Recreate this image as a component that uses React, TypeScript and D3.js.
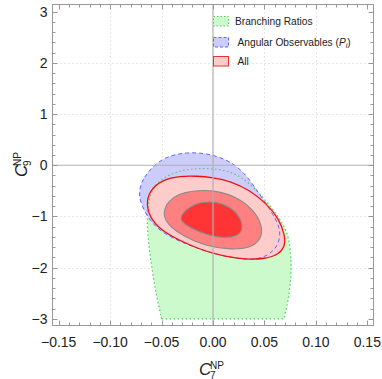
import React, { useEffect, useRef } from 'react';
import * as d3 from 'd3';

// contour boundaries, [C7, C9]
const branchingRatios: [number, number][] = [
  [-0.050, -3.0], [-0.053, -2.72], [-0.056, -2.45], [-0.061, -1.80], [-0.064, -1.28], [-0.064, -0.79],
  [-0.059, -0.46], [-0.051, -0.28], [-0.037, -0.13], [-0.022, -0.07], [-0.003, -0.06],
  [0.017, -0.11], [0.033, -0.30], [0.049, -0.63], [0.062, -0.95], [0.072, -1.28],
  [0.075, -1.59], [0.076, -1.87], [0.076, -2.20], [0.073, -2.65], [0.071, -2.83], [0.069, -3.0],
];

const angularObs: [number, number][] = [
  [-0.072, -0.50], [-0.068, -0.24], [-0.055, 0.05], [-0.042, 0.19], [-0.026, 0.25],
  [-0.009, 0.24], [0.007, 0.16], [0.021, 0.02], [0.033, -0.21], [0.043, -0.50],
  [0.053, -0.79], [0.062, -1.08], [0.066, -1.32], [0.063, -1.59], [0.053, -1.77],
  [0.041, -1.845], [0.026, -1.83], [0.007, -1.76], [-0.013, -1.64], [-0.032, -1.49],
  [-0.047, -1.34], [-0.058, -1.16], [-0.066, -0.93], [-0.071, -0.69],
];

const allOuter: [number, number][] = [
  [-0.065, -0.77], [-0.062, -0.50], [-0.049, -0.28], [-0.032, -0.21], [-0.016, -0.21],
  [0.000, -0.24], [0.017, -0.31], [0.036, -0.49], [0.052, -0.75], [0.064, -1.04],
  [0.070, -1.37], [0.070, -1.58], [0.064, -1.74], [0.051, -1.83], [0.031, -1.84],
  [0.012, -1.78], [-0.008, -1.68], [-0.027, -1.52], [-0.047, -1.32], [-0.060, -1.08],
];

const allMid: [number, number][] = [
  [-0.049, -0.92], [-0.043, -0.69], [-0.033, -0.56], [-0.021, -0.50], [0.000, -0.48],
  [0.023, -0.61], [0.040, -0.88], [0.048, -1.18], [0.047, -1.44], [0.037, -1.615],
  [0.017, -1.65], [-0.006, -1.585], [-0.029, -1.39], [-0.045, -1.15],
];

const allInner: [number, number][] = [
  [-0.032, -0.99], [-0.020, -0.75], [0.000, -0.69], [0.017, -0.81], [0.027, -1.02],
  [0.029, -1.25], [0.024, -1.39], [0.010, -1.425], [-0.006, -1.36], [-0.023, -1.22],
  [-0.031, -1.09],
];

const xTicks = [-0.15, -0.10, -0.05, 0.00, 0.05, 0.10, 0.15];
const yTicks = [-3, -2, -1, 0, 1, 2, 3];
const xGrid = [-0.10, -0.05, 0.05, 0.10];
const yGrid = [-2, -1, 1, 2];
const legendItems = ['Branching Ratios', 'Angular Observables', 'All'];

const W = 382;
const H = 379;
const font = '"Liberation Sans", Arial, Helvetica, sans-serif';

const App = () => {
  const svgRef = useRef<SVGSVGElement>(null);

  useEffect(() => {
    const svg = d3.select(svgRef.current);
    svg.selectAll('*').remove();

    const left = 52.5, right = 373.5, top = 4.5, bottom = 325.5;
    const x = d3.scaleLinear().domain([-0.156, 0.156]).range([left, right]);
    const y = d3.scaleLinear().domain([-3.13, 3.14]).range([bottom, top]);

    // grid
    const grid = svg.append('g').attr('stroke', '#cfcfcf').attr('stroke-width', 1)
      .attr('stroke-dasharray', '1,3');
    xGrid.forEach(v => {
      grid.append('line').attr('x1', Math.round(x(v)) + 0.5).attr('x2', Math.round(x(v)) + 0.5)
        .attr('y1', top).attr('y2', bottom);
    });
    yGrid.forEach(v => {
      grid.append('line').attr('y1', Math.round(y(v)) + 0.5).attr('y2', Math.round(y(v)) + 0.5)
        .attr('x1', left).attr('x2', right);
    });

    const line = d3.line<[number, number]>().x(d => x(d[0])).y(d => y(d[1]));
    const closed = (pts: [number, number][]) => line.curve(d3.curveBasisClosed)(pts) || '';
    const greenPath = (line.curve(d3.curveBasis)(branchingRatios) || '') + 'Z';

    const plot = svg.append('g');
    // fills
    plot.append('path').attr('d', greenPath).attr('fill', '#ccfacc');
    plot.append('path').attr('d', closed(angularObs)).attr('fill', '#ccccfd');
    plot.append('path').attr('d', closed(allOuter)).attr('fill', '#ffcccc');
    plot.append('path').attr('d', closed(allMid)).attr('fill', '#ff8080')
      .attr('stroke', '#8a8a8a').attr('stroke-width', 1.1);
    plot.append('path').attr('d', closed(allInner)).attr('fill', '#ff3434')
      .attr('stroke', '#8a8a8a').attr('stroke-width', 1.1);

    // axes through origin
    svg.append('line').attr('x1', x(0)).attr('x2', x(0)).attr('y1', top).attr('y2', bottom)
      .attr('stroke', '#b0b0b0').attr('stroke-width', 1.2);
    svg.append('line').attr('y1', y(0)).attr('y2', y(0)).attr('x1', left).attr('x2', right)
      .attr('stroke', '#b0b0b0').attr('stroke-width', 1.2);

    // boundaries
    plot.append('path').attr('d', greenPath).attr('fill', 'none')
      .attr('stroke', '#55cc55').attr('stroke-width', 1.2).attr('stroke-dasharray', '1.5,2.5');
    plot.append('path').attr('d', closed(angularObs)).attr('fill', 'none')
      .attr('stroke', '#6464ff').attr('stroke-width', 1).attr('stroke-dasharray', '4,3');
    plot.append('path').attr('d', closed(allOuter)).attr('fill', 'none')
      .attr('stroke', '#ee1111').attr('stroke-width', 1.3);

    // frame + ticks
    const frame = svg.append('g').attr('stroke', '#999').attr('stroke-width', 1).attr('fill', 'none');
    frame.append('rect').attr('x', left).attr('y', top).attr('width', right - left).attr('height', bottom - top);
    d3.range(-15, 16).forEach(i => {
      const v = i / 100;
      const len = i % 5 === 0 ? 5 : 3;
      const px = Math.round(x(v)) + 0.5;
      frame.append('line').attr('x1', px).attr('x2', px).attr('y1', bottom).attr('y2', bottom - len);
      frame.append('line').attr('x1', px).attr('x2', px).attr('y1', top).attr('y2', top + len);
    });
    d3.range(-15, 16).forEach(i => {
      const v = i / 5;
      const len = i % 5 === 0 ? 5 : 3;
      const py = Math.round(y(v)) + 0.5;
      frame.append('line').attr('y1', py).attr('y2', py).attr('x1', left).attr('x2', left + len);
      frame.append('line').attr('y1', py).attr('y2', py).attr('x1', right).attr('x2', right - len);
    });

    const fmt = (v: number, d: number) => (v < 0 ? '\u2212' : '') + Math.abs(v).toFixed(d);
    xTicks.forEach(v => {
      svg.append('text').attr('x', x(v)).attr('y', 347).attr('text-anchor', 'middle')
        .attr('font-family', font).attr('font-size', 14).attr('fill', '#222').text(fmt(v, 2));
    });
    yTicks.forEach(v => {
      svg.append('text').attr('x', 47.5).attr('y', y(v)).attr('dy', '0.36em').attr('text-anchor', 'end')
        .attr('font-family', font).attr('font-size', 14).attr('fill', '#222').text(fmt(v, 0));
    });

    // axis titles
    const title = (g: d3.Selection<SVGGElement, unknown, null, undefined>, sub: string) => {
      g.append('text').attr('font-family', font).attr('font-size', 17).attr('font-style', 'italic')
        .attr('fill', '#222').text('C');
      g.append('text').attr('x', 11).attr('y', -6.5).attr('font-family', font).attr('font-size', 10)
        .attr('fill', '#222').text('NP');
      g.append('text').attr('x', 11).attr('y', 3.5).attr('font-family', font).attr('font-size', 10)
        .attr('fill', '#222').text(sub);
    };
    title(svg.append('g').attr('transform', 'translate(199,375)'), '7');
    title(svg.append('g').attr('transform', 'translate(27,177) rotate(-90)'), '9');

    // legend
    const swatches = [
      { fill: '#ccfacc', stroke: '#55cc55', dash: '1.5,2', y: 16.5 },
      { fill: '#ccccfd', stroke: '#6464ff', dash: '3,2', y: 37.5 },
      { fill: '#ffcccc', stroke: '#ee3333', dash: null, y: 56.5 },
    ];
    legendItems.forEach((label, i) => {
      const s = swatches[i];
      svg.append('rect').attr('x', 213.5).attr('y', s.y).attr('width', 15).attr('height', 9.5)
        .attr('fill', s.fill).attr('stroke', s.stroke).attr('stroke-width', 1)
        .attr('stroke-dasharray', s.dash);
      const t = svg.append('text').attr('x', i === 0 ? 235 : 237.5).attr('y', s.y + 8.5)
        .attr('font-family', font).attr('font-size', 10.2).attr('fill', '#222').text(label);
      if (i === 1) {
        t.append('tspan').text(' (');
        t.append('tspan').attr('font-style', 'italic').text('P');
        t.append('tspan').attr('font-size', 7).attr('font-style', 'italic').attr('dy', 2).text('i');
        t.append('tspan').attr('dy', -2).text(')');
      }
    });
  }, []);

  return (
    <div style={{ position: 'absolute', left: 0, top: 0 }}>
      <svg ref={svgRef} width={W} height={H} style={{ display: 'block', background: '#fff' }} />
    </div>
  );
};

export default App;
